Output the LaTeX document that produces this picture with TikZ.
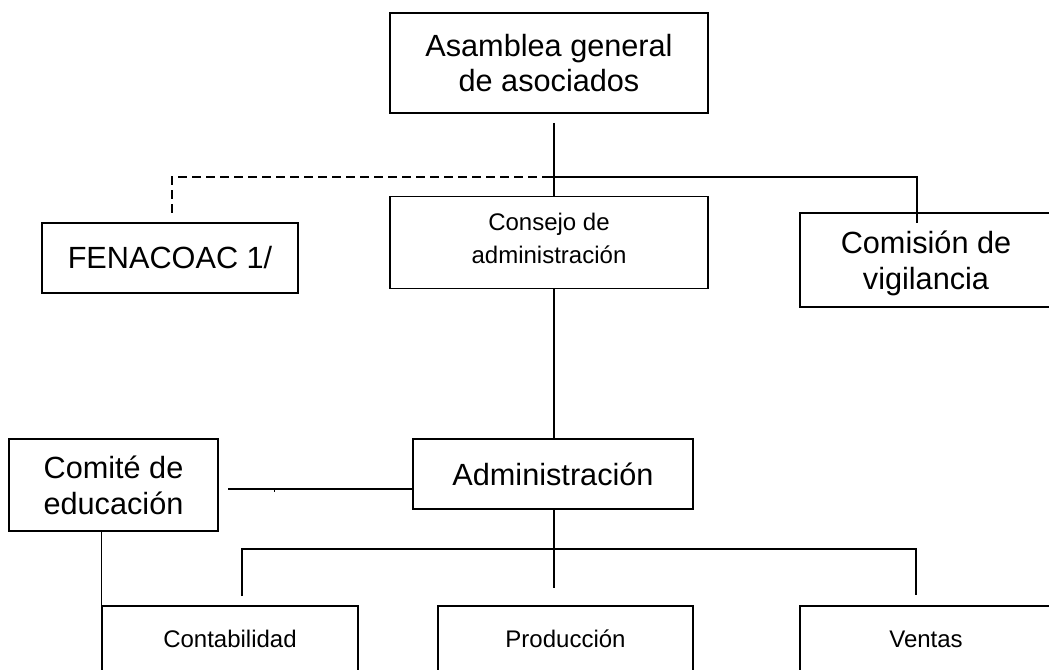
\documentclass[tikz,border=0pt]{standalone}
\usepackage{fontspec}
\setmainfont{Liberation Sans}
\usepackage{tikz}
\usetikzlibrary{positioning}

\begin{document}
\begin{tikzpicture}[x=0.75pt, y=-0.75pt, line width=1pt,
	entry/.style={rectangle, draw, align=center, inner sep=0pt},
	bigtext/.style={entry, font=\fontsize{23}{26.8}\selectfont},
	smalltext/.style={entry, font=\fontsize{18}{24.5}\selectfont},
	dashline/.style={dash pattern=on 7pt off 3.5pt}]
	\useasboundingbox (0,0) rectangle (1049,670);

	\node [bigtext, minimum width=238.5pt, minimum height=75pt] (asamblea) at (549,63) {Asamblea general\\de asociados};
	\node [smalltext, minimum width=238.5pt, minimum height=69pt, text depth=6pt, below=61.5pt of asamblea] (consejo) {Consejo de\\administración};
	\node [bigtext, minimum width=192pt, minimum height=52.5pt] (fenacoac) at (170,258) {FENACOAC 1/};
	\node [bigtext, minimum width=189pt, minimum height=70.5pt, text depth=0pt] (comision) at (926,260) {Comisión de\\vigilancia};

	\node [bigtext, minimum width=210pt, minimum height=52.5pt] (admin) at (553,474) {Administración};
	\node [bigtext, minimum width=156.75pt, minimum height=69pt] (comite) at (113.5,485) {Comité de\\educación};

	\node [smalltext, minimum width=192pt, minimum height=49.5pt] (conta) at (230,639) {Contabilidad};
	\node [smalltext, minimum width=191.25pt, minimum height=49.5pt] (produ) at (565.5,639) {Producción};
	\node [smalltext, minimum width=189pt, minimum height=49.5pt] (ventas) at (926,639) {Ventas};

	\coordinate (spineTop) at (554,123);
	\coordinate (dashEnd) at (545,177);
	\coordinate (fenaEnd) at (172,213);
	\coordinate (visEnd) at (917,223);
	\draw (spineTop) -- (spineTop |- consejo.north);
	\draw[dashline] (fenaEnd) |- (dashEnd);
	\draw (dashEnd) -| (visEnd);
	\draw (spineTop |- consejo.south) -- (spineTop |- admin.north);

	\coordinate (eduEnd) at (228,489);
	\coordinate (tick) at (274,489);
	\draw (eduEnd) -- (eduEnd -| admin.west);
	\draw[line width=0.6pt] (tick) -- ++(0,3);
	\draw (conta.north west |- comite.south) -- (conta.north west);

	\coordinate (busLow) at (554,549);
	\coordinate (contaEnd) at (242,596);
	\coordinate (produEnd) at (554,588);
	\coordinate (ventasEnd) at (916,595);
	\draw (spineTop |- admin.south) -- (busLow);
	\draw (contaEnd) |- (busLow) -| (ventasEnd);
	\draw (busLow) -- (produEnd);
\end{tikzpicture}
\end{document}
